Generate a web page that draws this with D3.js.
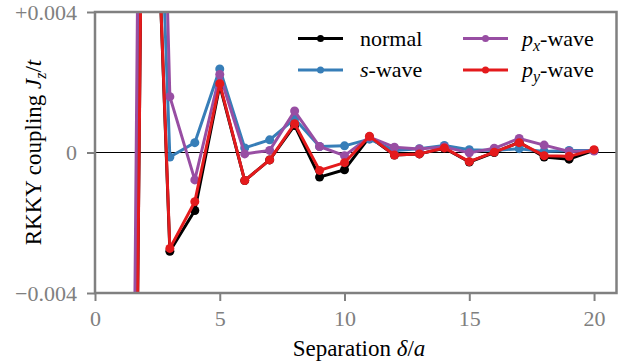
<!DOCTYPE html>
<html>
<head>
<meta charset="utf-8">
<script src="https://cdn.jsdelivr.net/npm/d3@7"></script>
<style>
  body { margin: 0; background: #fff; }
  svg { display: block; }
  svg text { font-family: "Liberation Serif", "DejaVu Serif", serif; }
</style>
</head>
<body>
<svg id="chart" width="641" height="364"></svg>
<script>
// ---- data ----
const separations = [1,2,3,4,5,6,7,8,9,10,11,12,13,14,15,16,17,18,19,20];
const normalVals = [-0.054, 0.0164, -0.00281, -0.00165, 0.00191, -0.00080, -0.00021, 0.00077, -0.00070, -0.00049, 0.00044, -0.00007, -0.00004, 0.00012, -0.00027, 0.00000, 0.00029, -0.00013, -0.00019, 0.00006];
const sWaveVals = [-0.050, 0.0195, -0.00013, 0.00028, 0.00238, 0.00013, 0.00036, 0.00096, 0.00017, 0.00019, 0.00038, 0.00006, 0.00011, 0.00020, 0.00008, 0.00006, 0.00011, 0.00003, 0.00006, 0.00006];
const pxWaveVals = [-0.0527, 0.0283, 0.00159, -0.00078, 0.00222, -0.00004, 0.00006, 0.00118, 0.00017, -0.00009, 0.00044, 0.00015, 0.00010, 0.00016, -0.00001, 0.00012, 0.00040, 0.00021, 0.00003, 0.00004];
const pyWaveVals = [-0.0545, 0.0164, -0.00273, -0.00140, 0.00196, -0.00080, -0.00021, 0.00082, -0.00051, -0.00029, 0.00046, -0.00007, -0.00004, 0.00013, -0.00026, 0.00001, 0.00028, -0.00009, -0.00011, 0.00008];
const xTicks = [0, 5, 10, 15, 20];
const yTicks = [-0.004, 0, 0.004];
const yTickLabels = ["\u22120.004", "0", "+0.004"];
const seriesNames = ["normal", "s-wave", "px-wave", "py-wave"];
const seriesColors = ["#000000", "#377eb8", "#984ea3", "#e41a1c"];

const seriesList = [normalVals, sWaveVals, pxWaveVals, pyWaveVals].map((vals, i) => ({
  name: seriesNames[i], color: seriesColors[i],
  points: separations.map((s, j) => ({x: s, y: vals[j]}))
}));

// ---- layout ----
const svg = d3.select("#chart");
const L = 95, R = 616.5, T = 12, B = 293;
const x = d3.scaleLinear().domain([0, 20.9]).range([L, R]);
const y = d3.scaleLinear().domain([-0.004, 0.004]).range([B, T]);
const grey = "#808080";
const serif = "'Liberation Serif', 'DejaVu Serif', serif";

svg.append("defs").append("clipPath").attr("id", "clip")
  .append("rect").attr("x", L).attr("y", T).attr("width", R - L).attr("height", B - T);

// zero line
svg.append("line").attr("x1", L).attr("x2", R).attr("y1", y(0)).attr("y2", y(0))
  .attr("stroke", "#000").attr("stroke-width", 1.2);

// series
const plot = svg.append("g").attr("clip-path", "url(#clip)");
const line = d3.line().x(d => x(d.x)).y(d => y(d.y));
seriesList.forEach(s => {
  const g = plot.append("g");
  g.append("path").datum(s.points).attr("d", line)
    .attr("fill", "none").attr("stroke", s.color).attr("stroke-width", 3)
    .attr("stroke-linejoin", "round");
  g.selectAll("circle").data(s.points).enter().append("circle")
    .attr("cx", d => x(d.x)).attr("cy", d => y(d.y)).attr("r", 4.5)
    .attr("fill", s.color);
});

// axes
const xAxis = svg.append("g").attr("transform", `translate(0,${B})`)
  .call(d3.axisBottom(x).tickValues(xTicks).tickSize(8).tickPadding(9).tickFormat(d3.format("d")));
const yAxis = svg.append("g").attr("transform", `translate(${L},0)`)
  .call(d3.axisLeft(y).tickValues(yTicks).tickSize(8).tickPadding(10)
    .tickFormat((d, i) => yTickLabels[i]));
[xAxis, yAxis].forEach(a => {
  a.attr("font-family", null).attr("font-size", null);
  a.select(".domain").remove();
  a.selectAll(".tick line").attr("stroke", grey).attr("stroke-width", 2);
  a.selectAll(".tick text").attr("fill", grey).style("font-size", "22px")
    .style("font-family", serif);
});

// frame
svg.append("rect").attr("x", L).attr("y", T).attr("width", R - L).attr("height", B - T)
  .attr("fill", "none").attr("stroke", grey).attr("stroke-width", 2.5);

// axis labels
const xl = svg.append("text").attr("x", 359).attr("y", 356)
  .attr("text-anchor", "middle").style("font-size", "23px").style("font-family", serif).attr("fill", "#000");
xl.append("tspan").text("Separation ");
xl.append("tspan").attr("font-style", "italic").text("\u03b4");
xl.append("tspan").text("/");
xl.append("tspan").attr("font-style", "italic").text("a");

const yl = svg.append("text")
  .attr("transform", `translate(41,${(T + B) / 2}) rotate(-90)`)
  .attr("text-anchor", "middle").style("font-size", "23px").style("font-family", serif).attr("fill", "#000");
yl.append("tspan").text("RKKY coupling ");
yl.append("tspan").attr("font-style", "italic").text("J");
yl.append("tspan").attr("font-style", "italic").attr("font-size", "16px").attr("dy", 5).text("z");
yl.append("tspan").attr("dy", -5).text("/");
yl.append("tspan").attr("font-style", "italic").text("t");

// legend
const legendPos = [
  {lx: 298, ly: 38.5}, {lx: 298, ly: 70}, {lx: 463, ly: 38.5}, {lx: 463, ly: 70}
];
seriesList.forEach((s, i) => {
  const p = legendPos[i];
  const g = svg.append("g");
  g.append("line").attr("x1", p.lx).attr("x2", p.lx + 45).attr("y1", p.ly).attr("y2", p.ly)
    .attr("stroke", s.color).attr("stroke-width", 3);
  g.append("circle").attr("cx", p.lx + 22.5).attr("cy", p.ly).attr("r", 3.5).attr("fill", s.color);
  const t = g.append("text").attr("x", p.lx + (i < 2 ? 62 : 59)).attr("y", p.ly + 7)
    .style("font-size", "22px").style("font-family", serif).attr("fill", "#000");
  if (s.name === "normal") t.text("normal");
  else if (s.name === "s-wave") {
    t.append("tspan").attr("font-style", "italic").text("s");
    t.append("tspan").text("-wave");
  } else {
    const sub = s.name === "px-wave" ? "x" : "y";
    t.append("tspan").attr("font-style", "italic").text("p");
    t.append("tspan").attr("font-style", "italic").attr("font-size", "16px").attr("dy", 5).text(sub);
    t.append("tspan").attr("dy", -5).text("-wave");
  }
});
</script>
</body>
</html>
